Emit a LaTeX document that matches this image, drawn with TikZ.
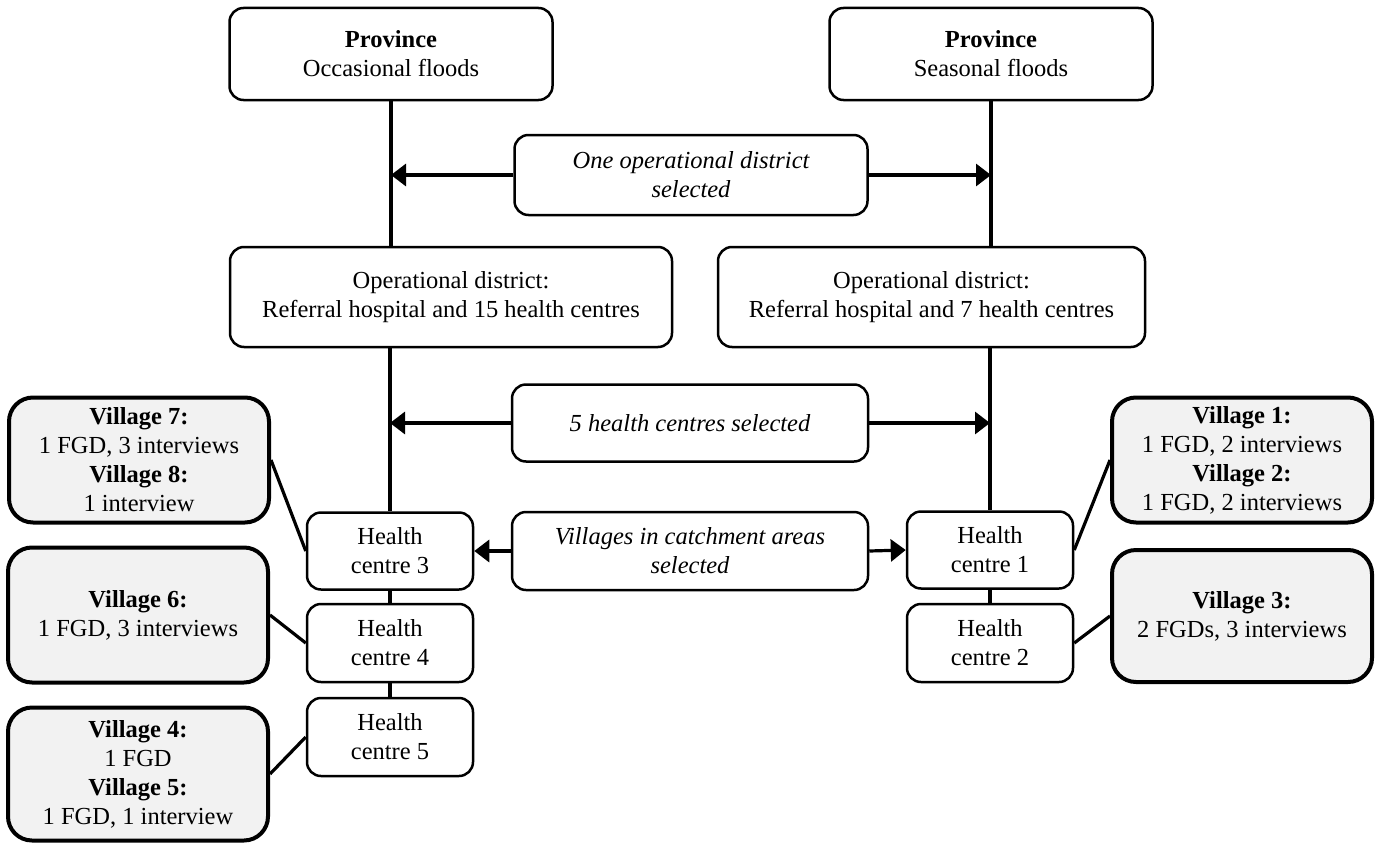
\documentclass[tikz,border=0pt]{standalone}
\usepackage{fontspec}
\setmainfont{Liberation Serif}
\usepackage{xcolor}
\usetikzlibrary{arrows.meta}
\usetikzlibrary{positioning}

\definecolor{villagegray}{HTML}{F2F2F2}

\tikzset{
  box/.style={draw, line width=2.5pt, rounded corners=14pt, align=center,
    font=\fontsize{24.5}{29}\selectfont, inner sep=0pt},
  selbox/.style={box, font=\fontsize{24.5}{29}\selectfont\itshape},
  village/.style={box, line width=4pt, rounded corners=24pt, fill=villagegray},
  link/.style={line width=3.2pt},
  pick/.style={line width=3.2pt, -{Triangle[length=15pt,width=22pt]}}
}

\begin{document}
\begin{tikzpicture}[x=1pt,y=-1pt]
        \useasboundingbox (0,0) rectangle (1378,843);

        % Provincias
        \node[box, minimum width=323pt, minimum height=92pt] (provL) at (391,54) {\textbf{Province}\\Occasional floods};
        \node[box, minimum width=323pt, minimum height=92pt] (provR) at (991,54) {\textbf{Province}\\Seasonal floods};

        % Distritos operativos
        \node[box, minimum width=442pt, minimum height=100pt] (odL) at (451,297) {Operational district:\\Referral hospital and 15 health centres};
        \node[box, minimum width=427pt, minimum height=100pt] (odR) at (931.5,297) {Operational district:\\Referral hospital and 7 health centres};

        % Criterios de seleccion
        \node[selbox, minimum width=353pt, minimum height=80pt] (selOD) at (691,175) {One operational district\\selected};
        \node[selbox, minimum width=356pt, minimum height=77pt] (selHC) at (690,423) {5 health centres selected};
        \node[selbox, minimum width=356pt, minimum height=78pt] (selV) at (690,551) {Villages in catchment areas\\selected};

        % Centros de salud
        \node[box, minimum width=166pt, minimum height=77pt] (hc3) at (390,551) {Health\\centre 3};
        \node[box, minimum width=166pt, minimum height=78pt] (hc4) at (390,643) {Health\\centre 4};
        \node[box, minimum width=166pt, minimum height=78pt] (hc5) at (390,737) {Health\\centre 5};
        \node[box, minimum width=166pt, minimum height=77pt] (hc1) at (990,550) {Health\\centre 1};
        \node[box, minimum width=166pt, minimum height=78pt] (hc2) at (990,643) {Health\\centre 2};

        % Aldeas
        \node[village, minimum width=260pt, minimum height=125pt] (v78) at (139,460) {\textbf{Village 7:}\\1 FGD, 3 interviews\\\textbf{Village 8:}\\1 interview};
        \node[village, minimum width=260pt, minimum height=135pt] (v6) at (138,615) {\textbf{Village 6:}\\1 FGD, 3 interviews};
        \node[village, minimum width=260pt, minimum height=133pt] (v45) at (138,774) {\textbf{Village 4:}\\1 FGD\\\textbf{Village 5:}\\1 FGD, 1 interview};
        \node[village, minimum width=260pt, minimum height=125pt] (v12) at (1242,460) {\textbf{Village 1:}\\1 FGD, 2 interviews\\\textbf{Village 2:}\\1 FGD, 2 interviews};
        \node[village, minimum width=260pt, minimum height=132pt] (v3) at (1242,616) {\textbf{Village 3:}\\2 FGDs, 3 interviews};

        % Conexiones verticales
        \draw[link] (provL.south) -- (provL.south |- odL.north);
        \draw[link] (provR.south) -- (provR.south |- odR.north);
        \draw[link] (hc3.north |- odL.south) -- (hc3.north);
        \draw[link] (hc1.north |- odR.south) -- (hc1.north);
        \draw[link] (hc3) -- (hc4);
        \draw[link] (hc4) -- (hc5);
        \draw[link] (hc1) -- (hc2);

        % Flechas
        \draw[pick] (selOD.west) -- (selOD.west -| provL.south);
        \draw[pick] (selOD.east) -- (selOD.east -| provR.south);
        \draw[pick] (selHC.west) -- (selHC.west -| hc3.north);
        \draw[pick] (selHC.east) -- (selHC.east -| hc1.north);
        \draw[pick] (selV.west) -- (hc3.east);
        \draw[pick] (selV.east) -- (hc1.west);

        % Aldeas a centros
        \draw[link] (v78.east) -- (hc3.west);
        \draw[link] (v6.east) -- (hc4.west);
        \draw[link] (v45.east) -- (hc5.west);
        \draw[link] (hc1.east) -- (v12.west);
        \draw[link] (hc2.east) -- (v3.west);
\end{tikzpicture}
\end{document}
